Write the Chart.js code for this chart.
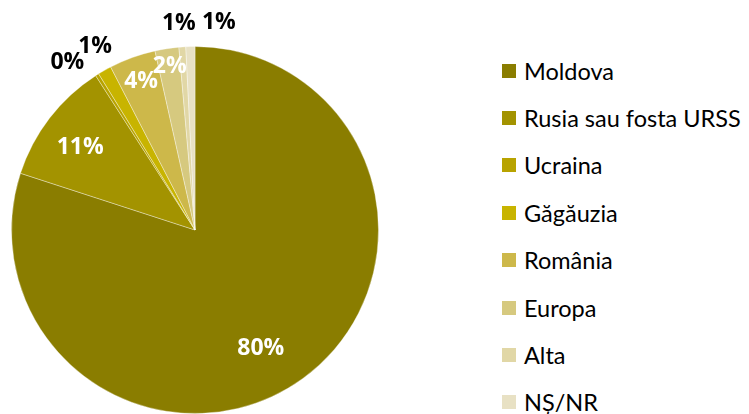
<!DOCTYPE html>
<html>
<head>
<meta charset="utf-8">
<script src="https://cdn.jsdelivr.net/npm/chart.js@4"></script>
<style>
  body { margin: 0; background: #fff; }
  #wrap { position: relative; width: 749px; height: 414px; overflow: hidden; }
  #pieBox { position: absolute; left: 0; top: 0; width: 390px; height: 414px; }
  #legend { position: absolute; left: 502px; top: 47px; font-family: Lato, sans-serif; font-size: 23.5px; color: #000; }
  .row { height: 47.4px; display: flex; align-items: center; white-space: nowrap; }
  .sw { width: 14px; height: 14px; margin-right: 8px; flex: none; }
</style>
</head>
<body>
<div id="wrap">
  <div id="pieBox"><canvas id="pie"></canvas></div>
  <div id="legend"></div>
</div>
<script>
const categories = ['Moldova', 'Rusia sau fosta URSS', 'Ucraina', 'Găgăuzia', 'România', 'Europa', 'Alta', 'NȘ/NR'];
const shares = [80.0, 10.9, 0.3, 1.2, 4.1, 2.1, 0.6, 0.8];
const colors = ['#8A7D00', '#A39300', '#B8A300', '#C8B400', '#CDB84A', '#D6C97F', '#E1D7A6', '#E8E1C4'];

// label placement: radius factor, angle shift (deg), colour
const labelPos = [
    { r: 0.74, shift: 7, color: '#fff' },
    { r: 0.77, shift: -2, color: '#fff' },
    { r: 1.15, shift: -5, color: '#000' },
    { r: 1.14, shift: 1, color: '#000' },
    { r: 0.86, shift: 0, color: '#fff' },
    { r: 0.90, shift: 0, color: '#fff' },
    { r: 1.13, shift: -0.5, color: '#000' },
    { r: 1.14, shift: 8, color: '#000' }
];

const pctLabels = {
    id: 'pctLabels',
    afterDraw(chart) {
        const ctx = chart.ctx;
        const meta = chart.getDatasetMeta(0);
        ctx.save();
        ctx.font = 'bold 23px "Open Sans", sans-serif';
        ctx.textAlign = 'center';
        ctx.textBaseline = 'middle';
        meta.data.forEach((arc, i) => {
            const p = arc.getProps(['x', 'y', 'startAngle', 'endAngle', 'outerRadius'], true);
            const pos = labelPos[i];
            const a = (p.startAngle + p.endAngle) / 2 + pos.shift * Math.PI / 180;
            const x = p.x + Math.cos(a) * p.outerRadius * pos.r;
            const y = p.y + Math.sin(a) * p.outerRadius * pos.r;
            ctx.fillStyle = pos.color;
            ctx.fillText(Math.round(shares[i]) + '%', x, y);
        });
        ctx.restore();
    }
};

new Chart(document.getElementById('pie'), {
    type: 'pie',
    data: {
        labels: categories,
        datasets: [{
            data: shares,
            backgroundColor: colors,
            borderColor: 'rgba(255,255,255,0.35)',
            borderWidth: 1
        }]
    },
    options: {
        responsive: true,
        maintainAspectRatio: false,
        animation: false,
        layout: { padding: { top: 46, bottom: 0, left: 11, right: 11 } },
        plugins: {
            legend: { display: false },
            tooltip: { enabled: false }
        }
    },
    plugins: [pctLabels]
});

const legend = document.getElementById('legend');
categories.forEach((name, i) => {
    const row = document.createElement('div');
    row.className = 'row';
    row.innerHTML = '<span class="sw" style="background:' + colors[i] + '"></span><span>' + name + '</span>';
    legend.appendChild(row);
});
</script>
</body>
</html>
